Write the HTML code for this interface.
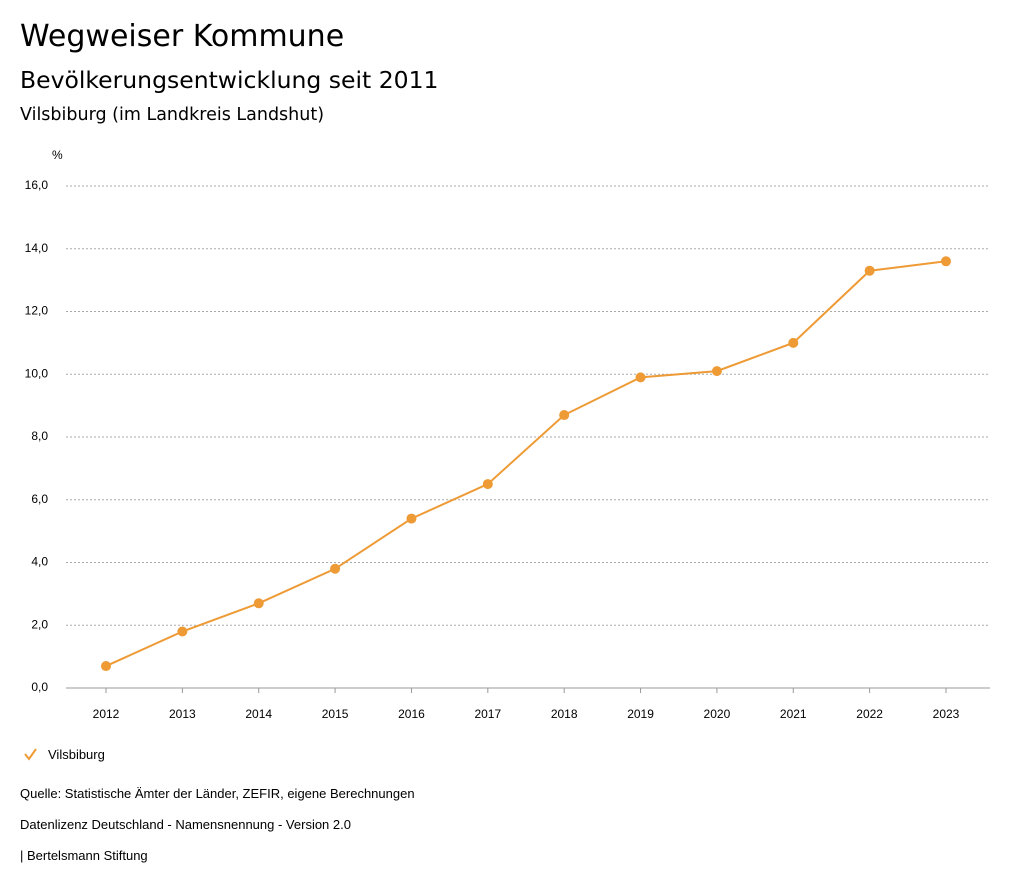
<!DOCTYPE html>
<html><head><meta charset="utf-8"><style>
body{margin:0;background:#fff;width:1024px;height:888px;overflow:hidden;font-family:"Liberation Sans","DejaVu Sans",sans-serif;color:#000}
.t{position:absolute;left:20px;white-space:nowrap}
.d{font-family:"DejaVu Sans","Liberation Sans",sans-serif}
</style></head><body>
<div class="t d" style="top:19px;font-size:30px">Wegweiser Kommune</div>
<div class="t d" style="top:66px;font-size:23.5px">Bevölkerungsentwicklung seit 2011</div>
<div class="t d" style="top:105px;font-size:17.5px;font-weight:500">Vilsbiburg (im Landkreis Landshut)</div>
<svg id="chart" width="1024" height="888" style="position:absolute;left:0;top:0"></svg>
<div class="t" style="top:786px;font-size:13px">Quelle: Statistische Ämter der Länder, ZEFIR, eigene Berechnungen</div>
<div class="t" style="top:817px;font-size:13px">Datenlizenz Deutschland - Namensnennung - Version 2.0</div>
<div class="t" style="top:848px;font-size:13px">| Bertelsmann Stiftung</div>
<script>
const years=["2012","2013","2014","2015","2016","2017","2018","2019","2020","2021","2022","2023"];
const values=[0.7,1.8,2.7,3.8,5.4,6.5,8.7,9.9,10.1,11.0,13.3,13.6];
const yTicks=[0,2,4,6,8,10,12,14,16];
const seriesName="Vilsbiburg";
const svg=document.getElementById('chart');
const NS="http://www.w3.org/2000/svg";
const x0=66,x1=990,y0=688,y16=186,color="#ee9a35";
const step=(946-106)/(years.length-1);
function xs(i){return 106+i*step;}
function ys(v){return y0-(v/16)*(y0-y16);}
function mk(t,a){const e=document.createElementNS(NS,t);for(const k in a)e.setAttribute(k,a[k]);svg.appendChild(e);return e;}
let u=mk('text',{x:52,y:159,'font-size':12,'font-family':'Liberation Sans, sans-serif'});u.textContent='%';


yTicks.forEach(v=>{
 const y=ys(v);
 const g=mk('line',{x1:x0,x2:x1,y1:y,y2:y,stroke:v===0?'#999':'#aaa','stroke-dasharray':v===0?'':'2,2','stroke-width':1});
 
 
 const t=mk('text',{x:48,y:y+3,'text-anchor':'end','font-size':12,'font-family':'Liberation Sans, sans-serif'});
 t.textContent=v.toFixed(1).replace('.',',');
 
 
});
years.forEach((yr,i)=>{
 const x=xs(i);
 const tk=mk('line',{x1:x,x2:x,y1:y0,y2:y0+5,stroke:'#999'});
 
 
 const t=mk('text',{x:x,y:718,'text-anchor':'middle','font-size':12,'font-family':'Liberation Sans, sans-serif'});
 t.textContent=yr;
 
 
});
const pl=mk('polyline',{points:values.map((v,i)=>xs(i)+','+ys(v)).join(' '),fill:'none',stroke:color,'stroke-width':2});


values.forEach((v,i)=>{
 const c=mk('circle',{cx:xs(i),cy:ys(v),r:5,fill:color});
 
 
});
const lg=mk('polyline',{points:'25,754 29,759 36,749',fill:'none',stroke:color,'stroke-width':2});


const lt=mk('text',{x:48,y:759,'font-size':13,'font-family':'Liberation Sans, sans-serif'});
lt.textContent=seriesName;


</script>
</body></html>
